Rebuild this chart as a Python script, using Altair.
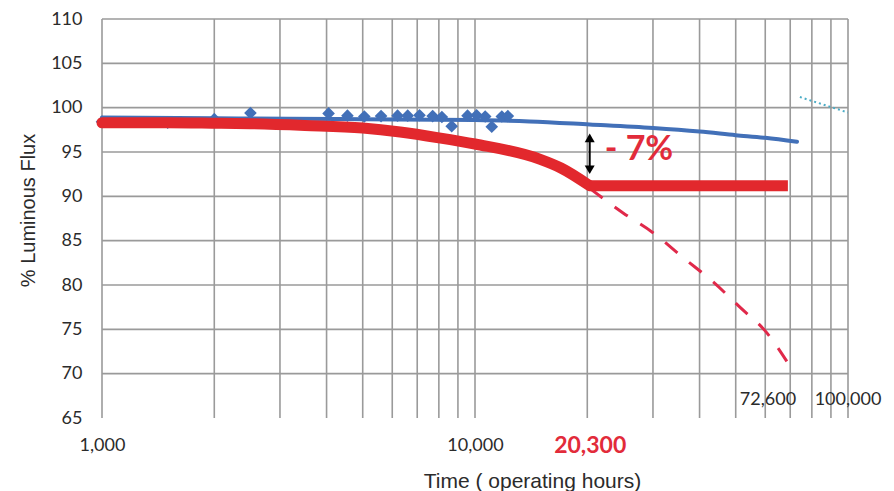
import altair as alt
import pandas as pd

# ---- data ----
diamond_hours = [1000, 1500, 2000, 2500, 4050, 4550, 5050, 5600, 6200, 6600,
                 7100, 7700, 8150, 8660, 9550, 10100, 10650, 11090, 11800, 12250]
diamond_flux = [98.4, 98.3, 98.7, 99.4, 99.35, 99.1, 99.0, 99.05, 99.1, 99.1,
                99.15, 99.05, 98.95, 97.9, 99.1, 99.15, 99.0, 97.85, 99.0, 99.05]

blue_hours = [1000, 2000, 5000, 10000, 14000, 20300, 30000, 40000, 50000, 60000, 73000]
blue_flux = [98.9, 98.8, 98.7, 98.6, 98.45, 98.1, 97.7, 97.3, 96.9, 96.6, 96.15]

red_hours = [1000, 1500, 2000, 2500, 3500, 5000, 6300, 8000, 10000, 14900, 17000, 20300]
red_flux = [98.3, 98.3, 98.25, 98.2, 98.0, 97.7, 97.25, 96.6, 95.9, 94.2, 93.2, 91.2]

flat_hours = [20300, 69000]
flat_flux = [91.2, 91.2]

proj_hours = [20300, 25000, 30000, 36100, 43500, 51300, 60600, 70000]
proj_flux = [90.9, 88.1, 85.9, 83.1, 80.35, 77.5, 74.6, 70.8]

teal_hours = [74300, 100000]
teal_flux = [101.2, 99.45]

arrow_hours = [20300]
arrow_top = [96.6]
arrow_bottom = [93.0]

x_grid = [1000, 2000, 3000, 4000, 5000, 6000, 7000, 8000, 9000,
          10000, 20000, 30000, 40000, 50000, 60000, 70000, 80000, 90000, 100000]
y_grid = [70, 75, 80, 85, 90, 95, 100, 105, 110]
y_ticks = [65, 70, 75, 80, 85, 90, 95, 100, 105, 110]
x_ticks = [1000, 10000, 20300]

inner_labels = ["72,600", "100,000"]
inner_label_hours = [72600, 100000]
inner_label_flux = [67.05, 67.05]

drop_text = ["- 7%"]

# ---- styles ----
BLUE = "#4270B8"
RED = "#E2282D"
RED_DASH = "#E0294A"
RED_TEXT = "#E22B3A"
TEAL = "#4BACC6"
GRID = "#9A9A9A"
TXT = "#2b2b2b"

x_scale = alt.Scale(type="log", domain=[1000, 100000], nice=False)
y_scale = alt.Scale(domain=[65, 110], nice=False, zero=False)

x_axis = alt.Axis(
    values=x_ticks, format=",", grid=False, ticks=False, domain=False,
    labelFlush=False, labelOverlap=False, labelPadding=27,
    labelBaseline="middle", labelFont="Lato",
    labelFontSize={"condition": {"test": "datum.value == 20300", "value": 23}, "value": 18},
    labelFontWeight={"condition": {"test": "datum.value == 20300", "value": "bold"}, "value": "normal"},
    labelColor={"condition": {"test": "datum.value == 20300", "value": RED_TEXT}, "value": TXT},
    title="Time ( operating hours)", titleFont="Liberation Sans", titleFontSize=21,
    titleFontWeight="normal", titleColor=TXT, titleX=430, titleY=69,
    titleBaseline="alphabetic", titleAlign="center",
)
y_axis = alt.Axis(
    values=y_ticks, grid=False, ticks=False, domain=False, labelPadding=20,
    labelFont="Lato", labelFontSize=18, labelColor=TXT, labelBaseline="middle",
    title="% Luminous Flux", titleFont="Liberation Sans", titleFontSize=20,
    titleFontWeight="normal", titleColor=TXT, titleX=-74, titleY=191,
    titleAngle=-90, titleAlign="center", titleBaseline="middle",
)

X = lambda f: alt.X(f, type="quantitative", scale=x_scale, axis=x_axis)
Y = lambda f: alt.Y(f, type="quantitative", scale=y_scale, axis=y_axis)

vgrid_df = pd.DataFrame({"hours": x_grid, "lo": [65] * len(x_grid), "hi": [110] * len(x_grid)})
hgrid_df = pd.DataFrame({"flux": y_grid, "h0": [1000] * len(y_grid), "h1": [100000] * len(y_grid)})

vgrid = alt.Chart(vgrid_df).mark_rule(color=GRID, strokeWidth=1.6).encode(
    x=X("hours"), y=Y("lo"), y2="hi")
hgrid = alt.Chart(hgrid_df).mark_rule(color=GRID, strokeWidth=1.6).encode(
    y=Y("flux"), x=X("h0"), x2="h1")

blue_line = alt.Chart(pd.DataFrame({"hours": blue_hours, "flux": blue_flux})).mark_line(
    color=BLUE, strokeWidth=4, interpolate="monotone", strokeCap="round").encode(
    x=X("hours"), y=Y("flux"))
diamonds = alt.Chart(pd.DataFrame({"hours": diamond_hours, "flux": diamond_flux})).mark_point(
    shape="diamond", filled=True, color=BLUE, size=160, opacity=1).encode(
    x=X("hours"), y=Y("flux"))

teal = alt.Chart(pd.DataFrame({"hours": teal_hours, "flux": teal_flux})).mark_line(
    color=TEAL, strokeWidth=2, strokeDash=[2, 3]).encode(x=X("hours"), y=Y("flux"))

proj = alt.Chart(pd.DataFrame({"hours": proj_hours, "flux": proj_flux})).mark_line(
    color=RED_DASH, strokeWidth=3, strokeDash=[16, 15], interpolate="monotone").encode(
    x=X("hours"), y=Y("flux"))

red_curve = alt.Chart(pd.DataFrame({"hours": red_hours, "flux": red_flux})).mark_line(
    color=RED, strokeWidth=11, interpolate="monotone", strokeCap="round").encode(
    x=X("hours"), y=Y("flux"))
red_flat = alt.Chart(pd.DataFrame({"hours": flat_hours, "flux": flat_flux})).mark_line(
    color=RED, strokeWidth=11, strokeCap="butt").encode(x=X("hours"), y=Y("flux"))

arrow_df = pd.DataFrame({"hours": arrow_hours, "top": arrow_top, "bottom": arrow_bottom})
arrow_shaft = alt.Chart(arrow_df).mark_rule(color="black", strokeWidth=2).encode(
    x=X("hours"), y=Y("top"), y2="bottom")
arrow_up = alt.Chart(arrow_df).mark_point(
    shape="triangle-up", filled=True, color="black", size=100, opacity=1).encode(
    x=X("hours"), y=Y("top"))
arrow_down = alt.Chart(arrow_df).mark_point(
    shape="triangle-down", filled=True, color="black", size=100, opacity=1).encode(
    x=X("hours"), y=Y("bottom"))

drop_label = alt.Chart(pd.DataFrame({"hours": arrow_hours, "flux": [94.1], "t": drop_text})).mark_text(
    font="Lato", fontWeight="bold", fontSize=34, color=RED_TEXT, align="left",
    baseline="alphabetic", dx=15).encode(x=X("hours"), y=Y("flux"), text="t:N")

inner_df = pd.DataFrame({"hours": inner_label_hours, "flux": inner_label_flux, "t": inner_labels})
inner_a = alt.Chart(inner_df.iloc[[0]]).mark_text(
    font="Lato", fontSize=18, color=TXT, align="right", baseline="middle").encode(
    x=X("hours"), y=Y("flux"), text="t:N")
inner_b = alt.Chart(inner_df.iloc[[1]]).mark_text(
    font="Lato", fontSize=18, color=TXT, align="center", baseline="middle").encode(
    x=X("hours"), y=Y("flux"), text="t:N")

chart = alt.layer(
    vgrid, hgrid, teal, blue_line, diamonds, proj, red_curve, red_flat,
    arrow_shaft, arrow_up, arrow_down, drop_label, inner_a, inner_b
).properties(
    width=746, height=399,
    padding={"left": 102, "top": 19, "right": 46, "bottom": 73},
    autosize=alt.AutoSizeParams(type="none"),
    background="white",
).configure_view(stroke=None)

chart.save("out.html", embed_options={"renderer": "svg", "actions": False})
